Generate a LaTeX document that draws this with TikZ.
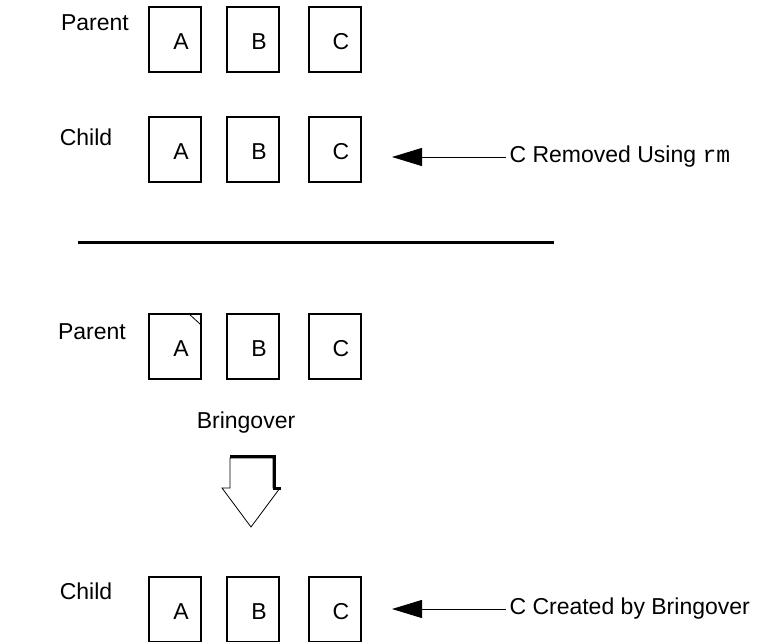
\documentclass[tikz,border=0pt]{standalone}
\usepackage{fontspec}
\setmainfont{Liberation Sans}
\setmonofont{Liberation Mono}
\usetikzlibrary{arrows.meta}

\begin{document}
\begin{tikzpicture}[x=1pt, y=-1pt,
  doc/.style={draw, line width=1.1pt, minimum width=52pt, minimum height=65pt, inner sep=0pt},
  lbl/.style={font=\fontsize{23}{27}\selectfont},
  note/.style={lbl, anchor=west},
  pointer/.style={line width=1pt, -{Triangle[length=30pt, width=18pt]}}]
  \useasboundingbox (0,0) rectangle (772,642);

  % Before: parent and child workspaces
  \node[lbl] (par1) at (95,23) {Parent};
  \node[lbl] (chd1) at (86,137) {Child};
  \foreach \n/\x in {A/175, B/253, C/335} {
    \node[doc, label={[lbl, xshift=6pt, yshift=-2pt]center:\n}] (\n1) at (\x,39.5) {};
    \node[doc, label={[lbl, xshift=6pt, yshift=-2pt]center:\n}] (\n2) at (\x,149.5) {};
  }
  \coordinate (tip2) at (392,157);
  \node[note] (rmnote) at (506,157) {C Removed Using \texttt{rm}};
  \draw[pointer] (rmnote.west) -- (tip2);

  % Separator
  \draw[line width=3pt] (78,242) -- (554,242);

  % After: parent and child workspaces
  \node[lbl] (par2) at (92,332) {Parent};
  \node[lbl] (chd2) at (86,591) {Child};
  \foreach \n/\x in {A/175, B/253, C/335} {
    \node[doc, label={[lbl, xshift=6pt, yshift=-2pt]center:\n}] (\n3) at (\x,346.5) {};
    \node[doc, label={[lbl, xshift=6pt, yshift=-2pt]center:\n}] (\n4) at (\x,609.5) {};
  }
  % folded corner of A
  \draw[line width=0.8pt] ([xshift=-13pt]A3.north east) -- ++(13,12);

  % Bringover block arrow
  \node[lbl] (bring) at (246,423) {Bringover};
  \draw[line width=0.8pt, fill=white]
    (230,458) -- (273,458) -- (273,488) -- (280,488) -- (251,527) --
    (222,488) -- (230,488) -- cycle;
  \draw[line width=3.5pt] (230,456.5) -- (274.5,456.5) -- (274.5,488.5) -- (280.5,488.5);

  \coordinate (tip4) at (392,609);
  \node[note] (bonote) at (506,609) {C Created by Bringover};
  \draw[pointer] (bonote.west) -- (tip4);
\end{tikzpicture}
\end{document}
